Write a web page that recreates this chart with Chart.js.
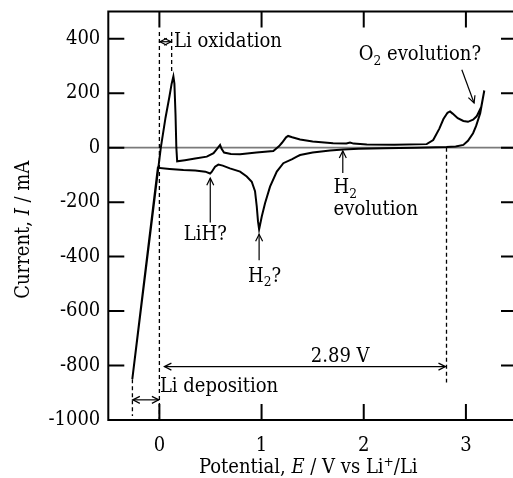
<!DOCTYPE html>
<html>
<head>
<meta charset="utf-8">
<script src="https://cdn.jsdelivr.net/npm/chart.js@4.4.1/dist/chart.umd.min.js"></script>
<style>
  html, body { margin: 0; padding: 0; background: #fff; overflow: hidden; }
  #wrap { width: 517px; height: 478px; }
</style>
</head>
<body>
<div id="wrap"><canvas id="cv"></canvas></div>
<script>
// Sweep towards positive potential (E in V, I in mA)
const anodicE = [-0.265, 0.014, 0.06, 0.098, 0.12, 0.137, 0.147, 0.158, 0.166, 0.174, 0.25, 0.35, 0.464, 0.53, 0.56, 0.594, 0.61, 0.633, 0.7, 0.79, 0.95, 1.115, 1.17, 1.2, 1.24, 1.26, 1.3, 1.377, 1.5, 1.7, 1.83, 1.866, 1.9, 2.03, 2.3, 2.616, 2.68, 2.74, 2.78, 2.82, 2.845, 2.87, 2.92, 2.975, 3.02, 3.07, 3.105, 3.15, 3.18];
const anodicI = [-850, 0, 110, 187, 235, 262, 235, 120, 0, -50, -46, -40, -33, -20, -6, 10, -5, -18, -23, -24, -18, -12, 5, 18, 38, 43, 38, 30, 23, 16, 15, 19, 15, 12, 11, 13, 28, 70, 105, 128, 133, 125, 108, 98, 95, 103, 115, 150, 210];
// Sweep back towards negative potential
const cathodicE = [3.14, 3.1, 3.07, 3.02, 2.975, 2.9, 2.81, 2.5, 2.2, 1.95, 1.8, 1.67, 1.5, 1.377, 1.345, 1.3, 1.213, 1.149, 1.083, 1.034, 1.002, 0.976, 0.965, 0.953, 0.936, 0.904, 0.855, 0.79, 0.69, 0.62, 0.577, 0.545, 0.51, 0.496, 0.45, 0.35, 0.235, 0.1, -0.015, -0.265];
const cathodicI = [126, 80, 53, 25, 10, 4, 2, 0, -2, -4, -7, -10, -18, -27, -33, -42, -57, -88, -143, -204, -253, -300, -270, -216, -160, -125, -106, -88, -76, -66, -62, -70, -90, -95, -88, -84, -82, -78, -74, -850];

const xTicks = [0, 1, 2, 3];
const yTicks = [-1000, -800, -600, -400, -200, 0, 200, 400];

const FONT = "'DejaVu Serif Condensed', 'DejaVu Serif', serif";

const points = [];
anodicE.forEach((e, i) => points.push({ x: e, y: anodicI[i] }));
cathodicE.forEach((e, i) => points.push({ x: e, y: cathodicI[i] }));

// draw text made of runs (normal / italic / sub / sup)
function drawRuns(ctx, runs, x, y, size, align) {
  const fontOf = r => (r.it ? 'italic ' : '') + (r.sub || r.sup ? size * 0.68 : size) + 'px ' + FONT;
  let w = 0;
  runs.forEach(r => { ctx.font = fontOf(r); w += ctx.measureText(r.t).width; });
  let cx = align === 'center' ? x - w / 2 : (align === 'right' ? x - w : x);
  ctx.textAlign = 'left';
  ctx.textBaseline = 'middle';
  runs.forEach(r => {
    ctx.font = fontOf(r);
    let dy = 0;
    if (r.sub) dy = size * 0.3;
    if (r.sup) dy = -size * 0.3;
    ctx.fillText(r.t, cx, y + dy);
    cx += ctx.measureText(r.t).width;
  });
}

function head(ctx, x, y, dx, dy) {
  // open chevron arrow head pointing in direction (dx, dy)
  const len = Math.hypot(dx, dy);
  const ux = dx / len, uy = dy / len;
  const L = 7, W = 3.5;
  ctx.beginPath();
  ctx.moveTo(x - ux * L - uy * W, y - uy * L + ux * W);
  ctx.lineTo(x, y);
  ctx.lineTo(x - ux * L + uy * W, y - uy * L - ux * W);
  ctx.stroke();
}

function arrow(ctx, x1, y1, x2, y2, both) {
  ctx.beginPath();
  ctx.moveTo(x1, y1);
  ctx.lineTo(x2, y2);
  ctx.stroke();
  head(ctx, x2, y2, x2 - x1, y2 - y1);
  if (both) head(ctx, x1, y1, x1 - x2, y1 - y2);
}

const cvPlugin = {
  id: 'cvPlugin',
  beforeDatasetsDraw(chart) {
    const { ctx, chartArea } = chart;
    const y0 = chart.scales.y.getPixelForValue(0);
    ctx.save();
    ctx.strokeStyle = '#7a7a7a';
    ctx.lineWidth = 1.6;
    ctx.beginPath();
    ctx.moveTo(chartArea.left, y0);
    ctx.lineTo(chartArea.right, y0);
    ctx.stroke();
    ctx.restore();
  },
  afterDraw(chart) {
    const { ctx, chartArea: a } = chart;
    const X = v => chart.scales.x.getPixelForValue(v);
    const Y = v => chart.scales.y.getPixelForValue(v);
    ctx.save();
    ctx.strokeStyle = '#000';
    ctx.fillStyle = '#000';

    // frame
    ctx.lineWidth = 2;
    ctx.strokeRect(a.left, a.top, a.right - a.left, a.bottom - a.top);

    // inward ticks on all four sides
    const TL = 16;
    ctx.beginPath();
    xTicks.forEach(v => {
      ctx.moveTo(X(v), a.bottom); ctx.lineTo(X(v), a.bottom - TL);
      ctx.moveTo(X(v), a.top); ctx.lineTo(X(v), a.top + TL);
    });
    yTicks.forEach(v => {
      ctx.moveTo(a.left, Y(v)); ctx.lineTo(a.left + TL, Y(v));
      ctx.moveTo(a.right, Y(v)); ctx.lineTo(a.right - TL, Y(v));
    });
    ctx.stroke();

    // dashed guide lines
    ctx.lineWidth = 1.3;
    ctx.setLineDash([4, 3]);
    ctx.beginPath();
    ctx.moveTo(X(0), Y(425)); ctx.lineTo(X(0), Y(-1000));
    ctx.moveTo(X(0.12), Y(425)); ctx.lineTo(X(0.12), Y(278));
    ctx.moveTo(X(2.81), Y(0)); ctx.lineTo(X(2.81), Y(-862));
    ctx.moveTo(X(-0.264), Y(-850)); ctx.lineTo(X(-0.264), Y(-985));
    ctx.stroke();
    ctx.setLineDash([]);

    // arrows
    ctx.lineWidth = 1.2;
    arrow(ctx, X(0.005), Y(389), X(0.115), Y(389), true);
    arrow(ctx, X(0.049), Y(-804), X(2.80), Y(-804), true);
    arrow(ctx, X(-0.26), Y(-926), X(-0.005), Y(-926), true);
    arrow(ctx, X(0.498), Y(-275), X(0.498), Y(-112), false);
    arrow(ctx, X(0.976), Y(-413), X(0.976), Y(-318), false);
    arrow(ctx, X(1.795), Y(-93), X(1.795), Y(-12), false);
    arrow(ctx, X(2.96), Y(286), X(3.08), Y(164), false);

    // labels
    const S = 20;
    drawRuns(ctx, [{ t: 'Li oxidation' }], X(0.144), Y(389), S, 'left');
    drawRuns(ctx, [{ t: '2.89 V' }], X(1.77), Y(-768), S, 'center');
    drawRuns(ctx, [{ t: 'Li deposition' }], X(0.005), Y(-878), S, 'left');
    drawRuns(ctx, [{ t: 'LiH?' }], X(0.45), Y(-319), S, 'center');
    drawRuns(ctx, [{ t: 'H' }, { t: '2', sub: true }, { t: '?' }], X(1.03), Y(-473), S, 'center');
    drawRuns(ctx, [{ t: 'H' }, { t: '2', sub: true }], X(1.705), Y(-148), S, 'left');
    drawRuns(ctx, [{ t: 'evolution' }], X(1.705), Y(-229), S, 'left');
    drawRuns(ctx, [{ t: 'O' }, { t: '2', sub: true }, { t: ' evolution?' }], X(2.55), Y(340), S, 'center');

    // axis titles
    drawRuns(ctx, [{ t: 'Potential, ' }, { t: 'E', it: true }, { t: ' / V vs Li' }, { t: '+', sup: true }, { t: '/Li' }],
      a.left + 200, a.bottom + 48, S, 'center');
    ctx.translate(a.left - 85, (a.top + a.bottom) / 2 + 14);
    ctx.rotate(-Math.PI / 2);
    drawRuns(ctx, [{ t: 'Current, ' }, { t: 'I', it: true }, { t: ' / mA' }], 0, 0, S, 'center');
    ctx.restore();
  }
};

const ctx = document.getElementById('cv').getContext('2d');
new Chart(ctx, {
  type: 'scatter',
  data: {
    datasets: [{
      data: points,
      showLine: true,
      borderColor: '#000',
      borderWidth: 2,
      pointRadius: 0,
      tension: 0
    }]
  },
  options: {
    responsive: true,
    maintainAspectRatio: false,
    animation: false,
    layout: { padding: { top: 11.5, left: 0, right: 0, bottom: 0 } },
    plugins: { legend: { display: false }, tooltip: { enabled: false } },
    scales: {
      x: {
        type: 'linear', min: -0.5, max: 3.5,
        grid: { display: false, drawTicks: false }, border: { display: false },
        afterBuildTicks: s => { s.ticks = xTicks.map(v => ({ value: v })); },
        afterFit: s => { s.height = 58; s.paddingLeft = 0; s.paddingRight = 0; },
        ticks: { color: '#000', padding: 14, autoSkip: false, maxRotation: 0, font: { family: FONT, size: 20 }, callback: v => String(v) }
      },
      y: {
        type: 'linear', min: -1000, max: 500,
        grid: { display: false, drawTicks: false }, border: { display: false },
        afterBuildTicks: s => { s.ticks = yTicks.map(v => ({ value: v })); },
        afterFit: s => { s.width = 108.3; s.paddingTop = 0; s.paddingBottom = 0; },
        ticks: { color: '#000', padding: 8, autoSkip: false, font: { family: FONT, size: 20 }, callback: v => String(v) }
      }
    }
  },
  plugins: [cvPlugin]
});
</script>
</body>
</html>
